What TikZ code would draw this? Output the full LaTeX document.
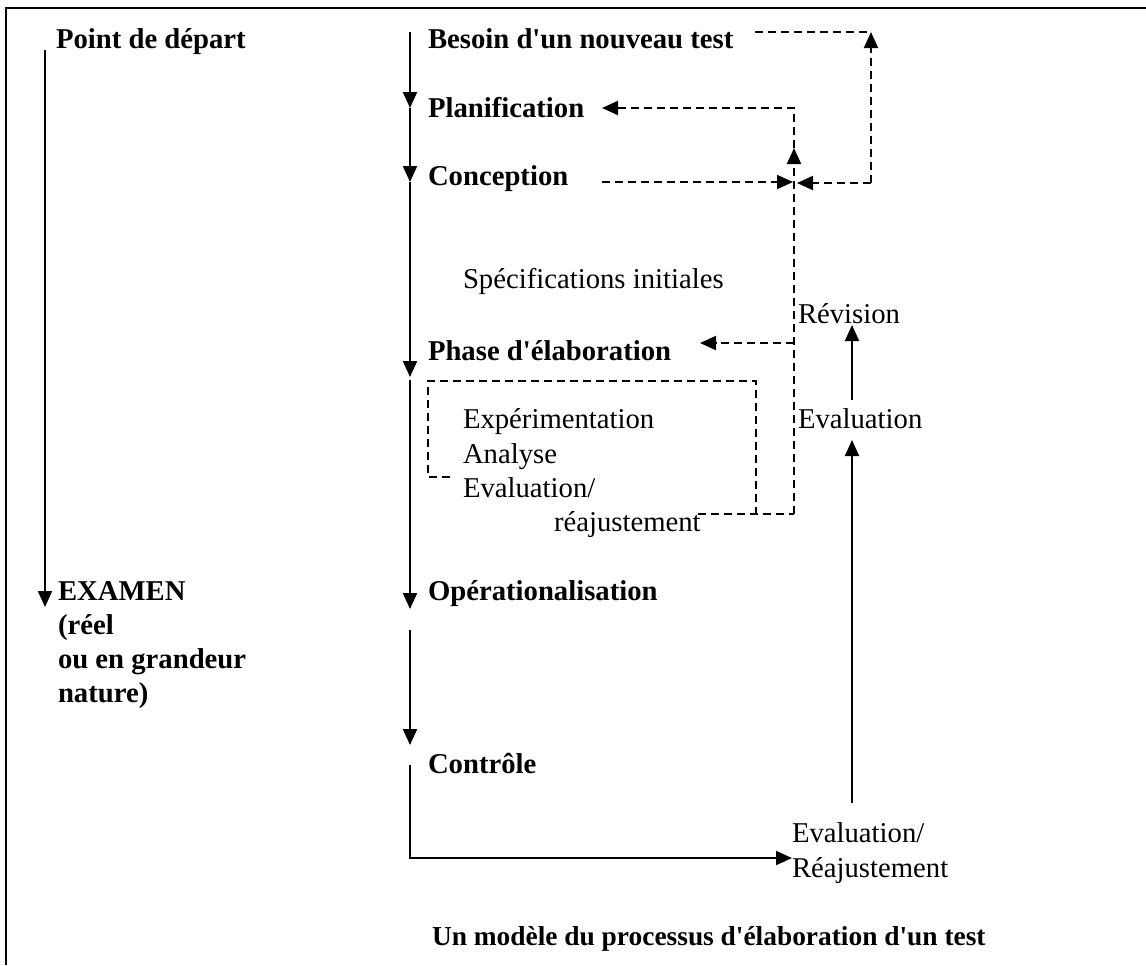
\documentclass[tikz,border=0pt]{standalone}
\usepackage{fontspec}
\setmainfont{Liberation Serif}[Ligatures=TeXOff]
\usetikzlibrary{arrows.meta}

\newcommand{\diagfont}{\fontsize{14.35}{17}\selectfont}
\tikzset{
  lbl/.style={anchor=base west, inner sep=0pt, font=\diagfont\bfseries},
  txt/.style={anchor=base west, inner sep=0pt, font=\diagfont},
  flow/.style={-{Triangle[width=7pt,length=8pt]}},
  back/.style={dashed, dash pattern=on 4pt off 2.5pt},
}

\begin{document}
\begin{tikzpicture}[x=0.5pt, y=-0.5pt, line width=1pt]
     \useasboundingbox (0,0) rectangle (1146,965);
     \draw (6,965) -- (6,8) -- (1146,8);

     % left column
     \node [lbl] (depart) at (55,48) {Point de départ};
     \node [lbl] (examen) at (57,600) {EXAMEN};
     \node [lbl] (reel) at (57,634) {(réel};
     \node [lbl] (grandeur) at (57,668) {ou en grandeur};
     \node [lbl] (nature) at (57,702) {nature)};
     \coordinate (l0) at (45,50);
     \coordinate (l1) at (45,607);
     \draw [flow] (l0) -- (l1);

     % middle column
     \node [lbl] (besoin) at (427,48) {Besoin d'un nouveau test};
     \node [lbl] (planif) at (427,117) {Planification};
     \node [lbl] (concep) at (427,185) {Conception};
     \node [txt] (specif) at (462,288) {Spécifications initiales};
     \node [lbl] (phase) at (427,360) {Phase d'élaboration};
     \node [txt] (experim) at (462,428) {Expérimentation};
     \node [txt] (analyse) at (462,463) {Analyse};
     \node [txt] (evalua) at (462,497) {Evaluation/};
     \node [txt] (reajust) at (553,531) {réajustement};
     \node [lbl] (operat) at (427,600) {Opérationalisation};
     \node [lbl] (contro) at (427,773) {Contrôle};

     \coordinate (m0) at (410,32);
     \coordinate (m1) at (410,108);
     \coordinate (m2) at (410,182);
     \coordinate (m3) at (410,377);
     \coordinate (m4) at (410,380);
     \coordinate (m5) at (410,609);
     \coordinate (m6) at (410,630);
     \coordinate (m7) at (410,745);
     \coordinate (m8) at (410,765);
     \coordinate (m9) at (410,858);
     \coordinate (e1) at (792,858);
     \draw [flow] (m0) -- (m1);
     \draw [flow] (m1) -- (m2);
     \draw [flow] (m2) -- (m3);
     \draw [flow] (m4) -- (m5);
     \draw [flow] (m6) -- (m7);
     \draw [flow] (m8) -- (m9) -- (e1);

     % dashed feedback
     \coordinate (b1) at (755,32);
     \coordinate (b2) at (871,32);
     \coordinate (k2) at (871,183);
     \coordinate (kr) at (797,183);
     \coordinate (cc) at (602,182);
     \coordinate (kx) at (793,182);
     \coordinate (v0) at (794,514);
     \coordinate (v1) at (794,148);
     \coordinate (v2) at (794,108);
     \coordinate (pl) at (602,108);
     \coordinate (v3) at (794,343);
     \coordinate (ph) at (700,343);
     \draw [back] (b1) -- (b2);
     \draw [back, flow] (k2) -- (b2);
     \draw [back, flow] (k2) -- (kr);
     \draw [back, flow] (cc) -- (kx);
     \draw [back, flow] (v0) -- (v1);
     \draw [back, flow] (v1) -- (v2) -- (pl);
     \draw [back, flow] (v3) -- (ph);
     \draw [back] (450,477) -- (428,477) -- (428,381) -- (756,381) -- (756,514);
     \draw [back] (698,514) -- (v0);

     % right column
     \node [txt] (revis) at (797,323) {Révision};
     \node [txt] (evalr) at (797,428) {Evaluation};
     \node [txt] (evalb) at (791,842) {Evaluation/};
     \node [txt] (reajb) at (791,877) {Réajustement};
     \coordinate (r0) at (852,400);
     \coordinate (r1) at (852,325);
     \coordinate (r2) at (852,803);
     \coordinate (r3) at (852,440);
     \draw [flow] (r0) -- (r1);
     \draw [flow] (r2) -- (r3);

     \node [lbl, font=\fontsize{13.7}{17}\selectfont\bfseries] (titre) at (431,945)
          {Un modèle du processus d'élaboration d'un test};
\end{tikzpicture}
\end{document}
